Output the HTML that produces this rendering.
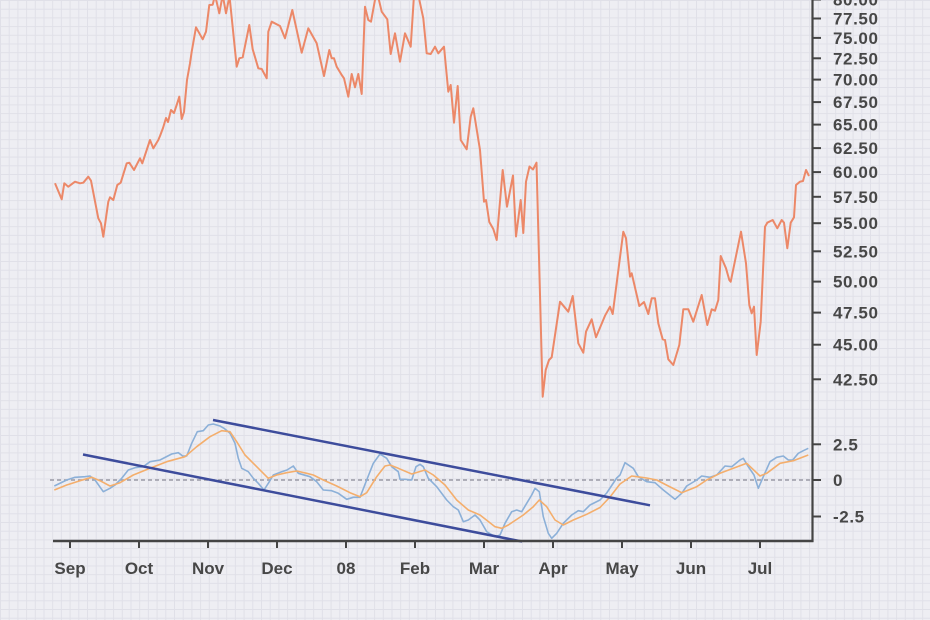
<!DOCTYPE html>
<html>
<head>
<meta charset="utf-8">
<style>
html,body{margin:0;padding:0;background:#eeeef3;}
svg{display:block;}
text{font-family:"Liberation Sans",sans-serif;font-weight:bold;fill:#474747;font-size:17px;}
</style>
</head>
<body>
<svg width="930" height="620" viewBox="0 0 930 620" xmlns="http://www.w3.org/2000/svg">
<defs>
<pattern id="g" width="8.7" height="8.7" patternUnits="userSpaceOnUse">
<path d="M0 0.5H8.7M0.5 0V8.7" stroke="#e0e0e8" stroke-width="1" fill="none"/>
</pattern>
</defs>
<rect width="930" height="620" fill="#eeeef3"/>
<rect width="930" height="620" fill="url(#g)"/>

<!-- price series -->
<polyline fill="none" stroke="#ec8868" stroke-width="2" stroke-linejoin="round" points="
55,183.3 61.7,199.3 64.3,183.3 68.3,186.7 75,181.7 80,183.3 83.3,182.7 88.3,176.7 91,180.7 98.3,218.3 101,223.3 103.3,236.7 108.3,201.7 110,197.3 113.3,200 117.3,185 120.7,182.7 126.7,163.3 129.3,162.7 134,170 140,158.3 142.3,163.3 150,140 153.3,148.3 158.3,140 160,136 163,128 166,118 168,122 171,110 174,113 177,104 179.3,96.7 181.7,119 184,112 187,80 190,63.3 191.7,51.7 196,27.3 202.7,39.3 206,31.7 209.3,5 212.7,4.7 215,-5 219.3,13.3 222.7,-5 226,13.3 229.5,-4 236.7,66.7 239.3,58.3 242.7,57.3 249.3,25 252.7,49.3 258.3,68.3 261.7,69 266.7,78.3 268.3,31.7 271.7,21.7 280,26 285,38.3 292.3,10 301.7,52.7 308.3,28.3 316.7,43.3 324,76 329.3,50 331.7,58.3 334,58.3 336.7,66.7 341.7,75 344,78.3 348.3,96.7 351.7,74 355,87.3 358.3,74 361.7,94 365,6.7 368.3,20 371,21.7 375.7,-4 378,-4 381.7,11.7 387.3,19.3 390.7,54 395,33.3 400,61.7 405,33.3 410.7,46.7 414,-5 418.3,-5 423.3,18.3 426.7,53.3 430.7,54 435,46.7 438.3,53.3 444,46.7 448.3,91.7 450.7,85 454,122.7 457.7,86 460.7,140 466.7,149.3 470.7,116.7 473.3,108.3 480,150 484,201.7 486,200 489.3,222 493.3,229 496.7,240 502.7,170 507,206.7 513,175.5 516,236.5 520.7,200 523.3,233 526,181.7 529.5,166.5 533,169.5 536.5,162.7 542.7,396.7 545.7,370 549,360 551.7,357.3 560,301.7 568.3,311.7 572.7,296 578.3,343.3 583.3,352.7 586,331.7 591.7,319.3 596,337.3 605,315.7 610,306.7 612.7,314 623.3,231.7 626,238.3 630,276.7 631.7,273.3 639.3,306 644,302 648.3,314 651.7,298.3 655,298.3 658.3,323.3 662.7,339.3 665,340 668.3,359.3 673.3,365 679.3,345 683.3,309.3 688.3,309.3 693.3,321.7 701.7,295 707.3,325 711.7,309.3 715,310.7 718.3,300 720.7,256 726,268.3 729.3,280 730.7,281.7 741,231.7 746,263.3 749.3,305 751.7,313.3 754,306.7 756.7,355 760.7,321.7 765,226.7 767.3,222.7 772.7,220 777.3,228.3 781.7,220 784,222.7 787.3,248.3 790.7,222.7 794,217.3 796,185 800,181.7 803,181 806,170 809,176"/>

<!-- zero line -->
<line x1="50" y1="480" x2="812" y2="480" stroke="#9a9aa6" stroke-width="1.5" stroke-dasharray="4,3"/>

<!-- MACD (blue) -->
<polyline fill="none" stroke="#8cb0d8" stroke-width="1.6" stroke-linejoin="round" points="
54.3,486 66.7,480 75,477.3 85,476.7 90,476 95,480 103.3,491.7 110,488.3 115,485 121.7,478.3 128.3,470 135,467.7 143.3,466.7 150,461.7 160,460 171.7,454 178.3,452.7 182.7,456 186.7,456 191.7,443.3 197.3,431.7 203.3,430.7 208.3,425 213.3,424 220,426 224,428.3 230,433.3 235,443.3 238.3,458.3 241.7,468.3 248.3,471.7 253.3,478.3 258.3,483.3 264,490 268.3,483.3 273.3,475 281.7,471.7 287,470 293.3,466 298.3,473.3 310,476.7 316.7,481.7 323.3,490 331.7,490.7 338.3,493.3 346.7,499.3 353.3,497.3 360,497.3 366.7,480 373.3,463.3 380,454 386.7,458.3 391.7,466.7 398.3,471.7 400,479.3 405,479.3 411.7,480 416,466.7 420,464.3 423.3,466.7 428.3,478.3 436.7,486.7 446.7,500 453.3,506.7 458.3,510 463.3,521.7 468.3,520 475,515 480,520 486.7,531.7 495,536.7 500,535 505,523.3 511.7,511.7 516.7,510 521.7,511.7 526.7,503.3 531.7,495 535,488.3 539.3,491.7 543.3,516.7 548.3,533.3 551.7,538.3 556.7,533.3 563.3,523.3 571.7,515 578.3,510.7 583.3,511.7 590,505 600,500 606.7,493 616.7,478 620,475 625,462.7 633.3,468.3 638.3,476.7 646.7,481.7 655,482.7 663.3,490 675,499.3 681.7,493.3 686.7,486 696.7,480 701.7,476 710,477.3 716.7,475 725,466 731.7,466.7 740,460 743.3,458.3 748.3,466.7 754,475 758.3,488.3 763.3,476.7 770,461.7 776.7,457.3 783.3,456 788.3,460 792.7,460 798.3,453.3 803.3,450.7 808.3,448.3"/>

<!-- Signal (orange) -->
<polyline fill="none" stroke="#f4ae6c" stroke-width="1.6" stroke-linejoin="round" points="
54.3,490 66.7,485 80,480.7 91.7,477.3 100,480.7 110,486 120,482.7 133.3,475 150,468.3 166.7,461.7 185,456.7 196.7,446.7 210,436.7 221.7,430.7 230,431.7 236.7,441.7 245,455 256.7,466.7 268.3,478.3 276.7,475 286.7,472.7 296.7,471 306.7,473.3 313.3,475 323.3,480 336.7,486 350,492.7 360,496.7 366.7,492.7 376.7,476.7 385,466 390,465 398.3,468.3 411.7,474 425,470 433.3,475 445,485 456.7,500 468.3,510 480,515 495,526.7 501.7,528.3 508.3,525 523.3,515 533.3,506.7 539.3,500 546.7,506.7 555,520 563.3,525 573.3,520 586.7,514.3 600,507.5 610,497 620,484 631.7,476 646.7,478 656.7,480 668.3,486 681.7,492.7 696.7,486.7 706.7,480 720,473.3 733.3,468.3 746.7,463.3 760,476 766.7,473.3 780,463.3 793.3,460.7 808.3,455"/>

<!-- trend lines -->
<line x1="213" y1="420" x2="650" y2="505.3" stroke="#3d4c9c" stroke-width="2.5"/>
<line x1="83" y1="454.5" x2="522" y2="541.5" stroke="#3d4c9c" stroke-width="2.5"/>

<!-- axes -->
<line x1="812.5" y1="0" x2="812.5" y2="542" stroke="#444" stroke-width="2.2"/>
<line x1="53" y1="541" x2="813.5" y2="541" stroke="#444" stroke-width="2.5"/>

<!-- x ticks -->
<g stroke="#444" stroke-width="2">
<line x1="70" y1="541" x2="70" y2="548"/>
<line x1="139" y1="541" x2="139" y2="548"/>
<line x1="208" y1="541" x2="208" y2="548"/>
<line x1="277" y1="541" x2="277" y2="548"/>
<line x1="346" y1="541" x2="346" y2="548"/>
<line x1="415" y1="541" x2="415" y2="548"/>
<line x1="484" y1="541" x2="484" y2="548"/>
<line x1="553" y1="541" x2="553" y2="548"/>
<line x1="622" y1="541" x2="622" y2="548"/>
<line x1="691" y1="541" x2="691" y2="548"/>
<line x1="760" y1="541" x2="760" y2="548"/>
</g>
<g text-anchor="middle">
<text x="70" y="574">Sep</text>
<text x="139" y="574">Oct</text>
<text x="208" y="574">Nov</text>
<text x="277" y="574">Dec</text>
<text x="346" y="574">08</text>
<text x="415" y="574">Feb</text>
<text x="484" y="574">Mar</text>
<text x="553" y="574">Apr</text>
<text x="622" y="574">May</text>
<text x="691" y="574">Jun</text>
<text x="760" y="574">Jul</text>
</g>

<!-- right y ticks (price, log scale) -->
<g stroke="#444" stroke-width="2">
<line x1="812" y1="-0.5" x2="821" y2="-0.5"/>
<line x1="812" y1="18.5" x2="821" y2="18.5"/>
<line x1="812" y1="37.9" x2="821" y2="37.9"/>
<line x1="812" y1="58.3" x2="821" y2="58.3"/>
<line x1="812" y1="79.6" x2="821" y2="79.6"/>
<line x1="812" y1="102.1" x2="821" y2="102.1"/>
<line x1="812" y1="124.6" x2="821" y2="124.6"/>
<line x1="812" y1="148.1" x2="821" y2="148.1"/>
<line x1="812" y1="172.1" x2="821" y2="172.1"/>
<line x1="812" y1="196.8" x2="821" y2="196.8"/>
<line x1="812" y1="223.2" x2="821" y2="223.2"/>
<line x1="812" y1="251.3" x2="821" y2="251.3"/>
<line x1="812" y1="281.6" x2="821" y2="281.6"/>
<line x1="812" y1="312.6" x2="821" y2="312.6"/>
<line x1="812" y1="344.7" x2="821" y2="344.7"/>
<line x1="812" y1="379.3" x2="821" y2="379.3"/>
<line x1="812" y1="444.3" x2="821" y2="444.3"/>
<line x1="812" y1="480" x2="821" y2="480"/>
<line x1="812" y1="516.5" x2="821" y2="516.5"/>
</g>
<g letter-spacing="0.6">
<text x="833" y="5.5">80.00</text>
<text x="833" y="24.5">77.50</text>
<text x="833" y="43.9">75.00</text>
<text x="833" y="64.3">72.50</text>
<text x="833" y="85.6">70.00</text>
<text x="833" y="108.1">67.50</text>
<text x="833" y="130.6">65.00</text>
<text x="833" y="154.1">62.50</text>
<text x="833" y="178.1">60.00</text>
<text x="833" y="202.8">57.50</text>
<text x="833" y="229.2">55.00</text>
<text x="833" y="257.3">52.50</text>
<text x="833" y="287.6">50.00</text>
<text x="833" y="318.6">47.50</text>
<text x="833" y="350.7">45.00</text>
<text x="833" y="385.3">42.50</text>
<text x="833" y="450.3">2.5</text>
<text x="833" y="486">0</text>
<text x="833" y="522.5">-2.5</text>
</g>
</svg>
</body>
</html>
